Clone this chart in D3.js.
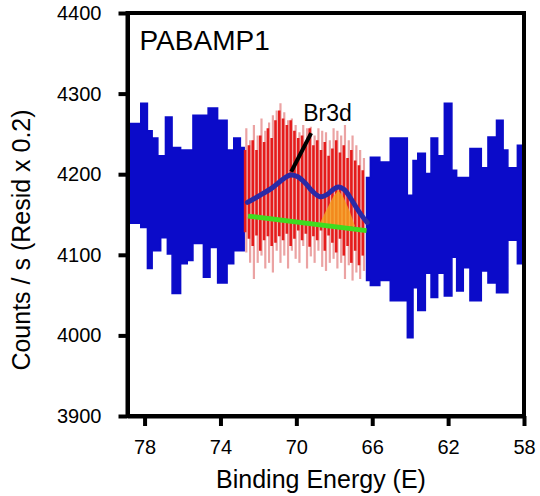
<!DOCTYPE html>
<html>
<head>
<meta charset="utf-8">
<script src="https://cdn.jsdelivr.net/npm/d3@7/dist/d3.min.js"></script>
<style>
    body { margin: 0; background: #fff; }
    svg text { font-family: "Liberation Sans", Arial, sans-serif; fill: #000; }
</style>
</head>
<body>
<div id="chart"></div>
<script>
// axis ticks
var xTicks = [78, 74, 70, 66, 62, 58];
var yTicks = [3900, 4000, 4100, 4200, 4300, 4400];

// raw counts outside the fit window (step envelope, high / low)
var leftEnergy = [78.9, 78.2, 77.85, 77.6, 77.3, 77.15, 76.9, 76.8, 76.55, 76.1, 75.75, 75.45, 74.9, 74.65, 74.55, 74.15, 73.65, 73.3, 72.95, 72.75];
var leftHigh = [4263, 4288, 4254, 4245, 4223, 4223, 4271, 4271, 4233, 4230, 4230, 4273, 4273, 4282, 4282, 4267, 4230, 4245, 4233, 4233];
var leftLow = [4139, 4134, 4083, 4105, 4105, 4121, 4121, 4101, 4052, 4089, 4093, 4114, 4072, 4072, 4109, 4065, 4089, 4105, 4105, 4105];

var rightEnergy = [66.3, 66.1, 65.6, 65.05, 64.15, 63.85, 63.6, 63.2, 62.9, 62.55, 62.2, 61.8, 61.55, 61.2, 60.85, 60.25, 59.9, 59.45, 59.1, 58.85, 58.35, 58.0];
var rightHigh = [4196, 4221, 4215, 4245, 4174, 4217, 4226, 4201, 4245, 4223, 4288, 4205, 4196, 4196, 4232, 4208, 4246, 4267, 4230, 4208, 4236, 4236];
var rightLow = [4068, 4062, 4068, 4043, 3997, 4059, 4031, 4077, 4047, 4077, 4049, 4097, 4055, 4084, 4043, 4080, 4065, 4053, 4053, 4118, 4089, 4089];

// counts inside the fit window (red) with their residual spread (pink)
var redEnergy = [72.7, 72.5, 72.3, 72.1, 71.9, 71.7, 71.5, 71.3, 71.1, 70.9, 70.7, 70.5, 70.3, 70.1, 69.9, 69.7,
    69.5, 69.3, 69.1, 68.9, 68.7, 68.5, 68.3, 68.1, 67.9, 67.7, 67.5, 67.3, 67.1, 66.9, 66.7, 66.5];
var redTop = [4230, 4236, 4242, 4230, 4248, 4240, 4257, 4245, 4267, 4279, 4269, 4261, 4267, 4254, 4245, 4248,
    4240, 4257, 4236, 4242, 4230, 4240, 4223, 4232, 4242, 4227, 4236, 4220, 4230, 4217, 4211, 4205];
var redBottom = [4128, 4120, 4111, 4124, 4105, 4118, 4123, 4111, 4115, 4123, 4118, 4126, 4111, 4120, 4130, 4118,
    4126, 4110, 4123, 4118, 4130, 4105, 4124, 4115, 4103, 4120, 4099, 4111, 4090, 4105, 4087, 4099];
var residTop = [4257, 4242, 4261, 4248, 4269, 4254, 4264, 4273, 4279, 4288, 4277, 4267, 4269, 4261, 4252, 4261,
    4257, 4259, 4248, 4257, 4254, 4252, 4242, 4257, 4254, 4248, 4261, 4242, 4248, 4236, 4230, 4220];
var residBottom = [4103, 4090, 4070, 4090, 4099, 4083, 4090, 4078, 4105, 4090, 4099, 4083, 4105, 4095, 4090, 4111,
    4083, 4098, 4090, 4105, 4085, 4080, 4090, 4095, 4083, 4090, 4070, 4087, 4068, 4078, 4070, 4080];

// fit envelope, background and Br3d component
var fitEnergy = [72.58, 71.9, 71.22, 70.69, 70.32, 69.95, 69.53, 69.16, 68.74, 68.37, 68.06, 67.79, 67.48, 67.16, 66.85, 66.53, 66.27];
var fitCounts = [4165, 4174, 4184, 4194, 4199, 4197, 4189, 4179, 4172, 4175, 4181, 4184, 4181, 4171, 4159, 4148, 4140];
var baseEnergy = [72.55, 66.3];
var baseCounts = [4148, 4130];
var peakEnergy = [68.85, 68.43, 68.06, 67.79, 67.53, 67.2, 66.9];
var peakCounts = [4135, 4155, 4172, 4180, 4172, 4155, 4135];

// annotation
var noteEnergy = [70.27, 69.22];
var noteCounts = [4203, 4251];
var noteLabel = {text: 'Br3d', energy: 69.64, counts: 4266};

var margin = {top: 13, right: 16, bottom: 80, left: 127.5},
    width = 540 - margin.left - margin.right,
    height = 496 - margin.top - margin.bottom;

var x = d3.scaleLinear().domain([78.9, 58]).range([0, width]);
var y = d3.scaleLinear().domain([3900, 4400]).range([height, 0]);

var svg = d3.select('#chart').append('svg').attr('width', 540).attr('height', 496);
var g = svg.append('g').attr('transform', 'translate(' + margin.left + ',' + margin.top + ')');

g.append('clipPath').attr('id', 'plot-clip').append('rect').attr('width', width).attr('height', height);
var plot = g.append('g').attr('clip-path', 'url(#plot-clip)');

function zip3(e, a, b) {
    return e.map(function(v, i) { return {e: v, a: a[i], b: b[i]}; });
}

var band = d3.area().curve(d3.curveStepAfter)
    .x(function(d) { return x(d.e); })
    .y0(function(d) { return y(d.b); })
    .y1(function(d) { return y(d.a); });

[zip3(leftEnergy, leftHigh, leftLow), zip3(rightEnergy, rightHigh, rightLow)].forEach(function(part) {
    plot.append('path').datum(part).attr('d', band)
        .style('fill', '#0b0bc9').style('stroke', '#0b0bc9').style('stroke-width', 1.5);
});

var red = zip3(redEnergy, redTop, redBottom);
var resid = zip3(redEnergy, residTop, residBottom);

plot.append('g').selectAll('line').data(resid).enter().append('line')
    .attr('x1', function(d) { return x(d.e) + 1.2; }).attr('x2', function(d) { return x(d.e) + 1.2; })
    .attr('y1', function(d) { return y(d.a); }).attr('y2', function(d) { return y(d.b); })
    .style('stroke', '#eba3a3').style('stroke-width', 2.2);

plot.append('g').selectAll('line').data(red).enter().append('line')
    .attr('x1', function(d) { return x(d.e); }).attr('x2', function(d) { return x(d.e); })
    .attr('y1', function(d) { return y(d.a); }).attr('y2', function(d) { return y(d.b); })
    .style('stroke', '#e51b1b').style('stroke-width', 2.6);

var line = d3.line()
    .x(function(d) { return x(d.e); })
    .y(function(d) { return y(d.a); });

// Br3d component
plot.append('path').datum(zip3(peakEnergy, peakCounts, peakCounts))
    .attr('d', function(d) { return line(d) + 'Z'; })
    .style('fill', '#f6a51e').style('fill-opacity', 0.8).style('stroke', 'none');

plot.append('path').datum(zip3(baseEnergy, baseCounts, baseCounts)).attr('d', line)
    .style('fill', 'none').style('stroke', '#3fdc20').style('stroke-width', 5);

plot.append('path').datum(zip3(fitEnergy, fitCounts, fitCounts)).attr('d', line.curve(d3.curveCatmullRom))
    .style('fill', 'none').style('stroke', '#2a2aa6').style('stroke-width', 5).style('stroke-linecap', 'round');

plot.append('path').datum(zip3(noteEnergy, noteCounts, noteCounts)).attr('d', line.curve(d3.curveLinear))
    .style('fill', 'none').style('stroke', '#000').style('stroke-width', 4);

g.append('text').attr('x', x(noteLabel.energy)).attr('y', y(noteLabel.counts))
    .style('font-size', '23px').text(noteLabel.text);

g.append('text').attr('x', 12).attr('y', 37).style('font-size', '28px').text('PABAMP1');

// axes
var yAxis = d3.axisLeft(y).tickValues(yTicks).tickFormat(d3.format('d')).tickSize(9).tickSizeOuter(0).tickPadding(17);
var xAxis = d3.axisBottom(x).tickValues(xTicks).tickFormat(d3.format('d')).tickSize(10).tickSizeOuter(0).tickPadding(14);

var yg = g.append('g').call(yAxis);
var xg = g.append('g').attr('transform', 'translate(0,' + height + ')').call(xAxis);
[yg, xg].forEach(function(a) {
    a.selectAll('path, line').style('stroke', '#000').style('stroke-width', 4);
    a.selectAll('text').style('font-size', '20px').style('font-family', '"Liberation Sans", Arial, sans-serif');
});

g.append('rect').attr('width', width).attr('height', height)
    .style('fill', 'none').style('stroke', '#000').style('stroke-width', 4);

svg.append('text').attr('transform', 'translate(30,240) rotate(-90)')
    .attr('text-anchor', 'middle').style('font-size', '25px').text('Counts / s (Resid x 0.2)');

svg.append('text').attr('x', 321).attr('y', 488)
    .attr('text-anchor', 'middle').style('font-size', '25px').text('Binding Energy (E)');
</script>
</body>
</html>
